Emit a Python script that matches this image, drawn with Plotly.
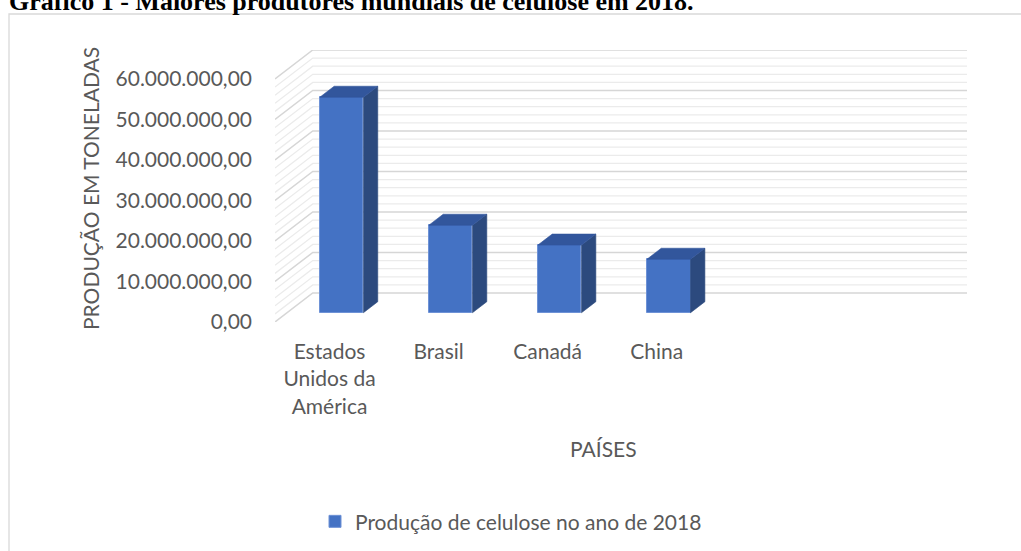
import plotly.graph_objects as go

# ---------------- data ----------------
paises = ["Estados<br>Unidos da<br>América", "Brasil", "Canadá", "China", "", ""]
producao = [53_200_000, 21_600_000, 16_700_000, 13_200_000]
serie = "Produção de celulose no ano de 2018"
y_ticks = [0, 10_000_000, 20_000_000, 30_000_000, 40_000_000, 50_000_000, 60_000_000]
y_minor_step = 2_000_000
titulo = "Gráfico 1 - Maiores produtores mundiais de celulose em 2018."
titulo_y = "PRODUÇÃO EM TONELADAS"
titulo_x = "PAÍSES"

# ---------------- layout geometry ----------------
FW, FH = 1021, 551
L, R, T, B = 275, 54, 50, 229
PW = FW - L - R
PH = FH - T - B
PB = FH - B  # plot bottom pixel

# oblique "3D" depth, in data units
DX = 0.3462                   # category units
YMAX = y_ticks[-1]
DY = 29 * YMAX / (PH - 29)    # value units
D0, D1 = 0.32, 0.70           # bar depth span (fraction of floor depth)
BAR_W = 0.4

FONT = "Lato"
GREY = "#595959"
FRONT = "#4472C4"
SIDE = "#2C4A7E"
TOP = "#32569C"


def px_x(px):
    return (px - L) / PW


def px_y(py):
    return (PB - py) / PH


fig = go.Figure()

# ---------------- walls (gridlines) ----------------
x_left = -0.5
x_right = len(paises) - 0.5
major_path, minor_path = "", ""
v = 0
while v <= YMAX + 1:
    seg = (f"M{x_left},{v} L{x_left + DX},{v + DY} "
           f"L{x_right + DX},{v + DY} ")
    if v in y_ticks:
        major_path += seg
    else:
        minor_path += seg
    v += y_minor_step

shapes = [
    dict(type="path", path=minor_path, xref="x", yref="y", layer="below",
         line=dict(color="#EBEBEB", width=1.3)),
    dict(type="path", path=major_path, xref="x", yref="y", layer="below",
         line=dict(color="#D6D6D6", width=1.5)),
    dict(type="rect", xref="paper", yref="paper",
         x0=px_x(9), y0=px_y(14), x1=px_x(FW + 10), y1=px_y(FH + 10),
         line=dict(color="#D9D9D9", width=1.3), fillcolor="rgba(0,0,0,0)",
         layer="below"),
]

# ---------------- bars ----------------
base = D0 * DY
xs_front = [i + D0 * DX for i in range(len(producao))]
fig.add_trace(go.Bar(
    x=xs_front, y=producao, base=[base] * len(producao), width=BAR_W,
    name=serie, marker=dict(color=FRONT, line=dict(color="#6E92D6", width=1)),
    showlegend=True, hoverinfo="skip",
))

ddx = (D1 - D0) * DX
ddy = (D1 - D0) * DY
for xc, val in zip(xs_front, producao):
    xl, xr = xc - BAR_W / 2, xc + BAR_W / 2
    top = base + val
    # right side face
    fig.add_trace(go.Scatter(
        x=[xr, xr + ddx, xr + ddx, xr, xr],
        y=[base, base + ddy, top + ddy, top, base],
        fill="toself", fillcolor=SIDE, mode="lines",
        line=dict(color=SIDE, width=0.6), showlegend=False, hoverinfo="skip"))
    # top face
    fig.add_trace(go.Scatter(
        x=[xl, xr, xr + ddx, xl + ddx, xl],
        y=[top, top, top + ddy, top + ddy, top],
        fill="toself", fillcolor=TOP, mode="lines",
        line=dict(color=TOP, width=0.6), showlegend=False, hoverinfo="skip"))

# ---------------- annotations ----------------
annotations = [
    dict(text=f"<b>{titulo}</b>", xref="paper", yref="paper",
         x=px_x(7), y=px_y(17.5), xanchor="left", yanchor="bottom",
         showarrow=False, font=dict(family="Liberation Serif", size=26, color="black")),
    dict(text=titulo_y, xref="paper", yref="paper", x=px_x(90), y=px_y(189),
         xanchor="center", yanchor="middle", textangle=-90, showarrow=False,
         font=dict(family=FONT, size=21, color=GREY)),
    dict(text=titulo_x, xref="paper", yref="paper", x=px_x(603), y=px_y(448),
         xanchor="center", yanchor="middle", showarrow=False,
         font=dict(family=FONT, size=21, color=GREY)),
]

fig.update_layout(
    width=FW, height=FH,
    margin=dict(l=L, r=R, t=T, b=B, autoexpand=False),
    paper_bgcolor="white", plot_bgcolor="white",
    separators=",.",
    font=dict(family=FONT, size=21, color=GREY),
    shapes=shapes, annotations=annotations,
    bargap=0,
    legend=dict(orientation="h", x=px_x(315), xanchor="left",
                y=px_y(521.7), yanchor="middle",
                font=dict(family=FONT, size=21, color=GREY),
                bgcolor="rgba(0,0,0,0)"),
    xaxis=dict(range=[x_left, x_right + DX], tickvals=list(range(len(paises))),
               ticktext=paises, showgrid=False, zeroline=False, showline=False,
               ticks="", ticklabelstandoff=15,
               tickfont=dict(family=FONT, size=21, color=GREY), fixedrange=True),
    yaxis=dict(range=[0, YMAX + DY], tickvals=y_ticks, tickformat=",.2f",
               showgrid=False, zeroline=False, showline=False, ticks="",
               ticklabelstandoff=22,
               tickfont=dict(family=FONT, size=21, color=GREY), fixedrange=True),
)

fig.write_html("out.html")
